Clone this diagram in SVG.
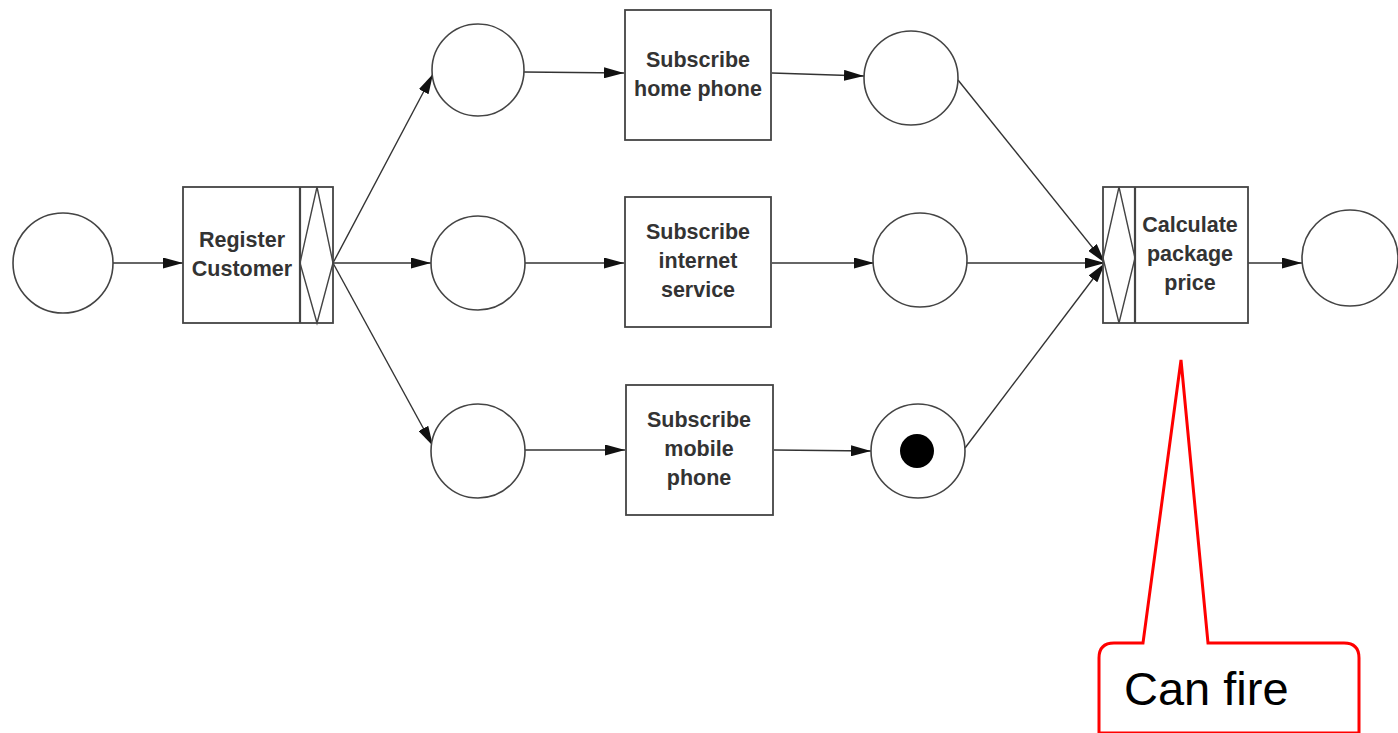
<svg xmlns="http://www.w3.org/2000/svg" width="1398" height="733" viewBox="0 0 1398 733">
<style>
.pl{fill:#fff;stroke:#444;stroke-width:1.6}
.tr{fill:#fff;stroke:#444;stroke-width:1.8}
.ln{fill:none;stroke:#444;stroke-width:1.4}
.e{fill:none;stroke:#333;stroke-width:1.4;marker-end:url(#ah)}
.lb{font-family:"Liberation Sans",Arial,sans-serif;font-weight:bold;font-size:21.5px;fill:#333;text-anchor:middle}
</style>
<defs>
<marker id="ah" viewBox="0 0 20 11" refX="20" refY="5.5" markerWidth="20" markerHeight="11" markerUnits="userSpaceOnUse" orient="auto">
<path d="M0,0 L20,5.5 L0,11 Z" fill="#111"/>
</marker>
</defs>
<rect width="1398" height="733" fill="#fff"/>
<g id="connectors">
<line class="e" x1="113" y1="263" x2="183" y2="263"/>
<line class="e" x1="333" y1="263" x2="433" y2="74"/>
<line class="e" x1="333" y1="263" x2="431" y2="263"/>
<line class="e" x1="333" y1="263" x2="433" y2="446"/>
<line class="e" x1="524" y1="72" x2="624" y2="73"/>
<line class="e" x1="524" y1="263" x2="624" y2="263"/>
<line class="e" x1="524" y1="450" x2="625" y2="450"/>
<line class="e" x1="772" y1="73" x2="864" y2="76"/>
<line class="e" x1="772" y1="263" x2="874" y2="263"/>
<line class="e" x1="774" y1="450" x2="871" y2="451"/>
<line class="e" x1="958" y1="80" x2="1105" y2="263"/>
<line class="e" x1="967" y1="263" x2="1105" y2="263"/>
<line class="e" x1="965" y1="448" x2="1105" y2="263"/>
<line class="e" x1="1248" y1="263" x2="1302" y2="263"/>
</g>
<g id="p_start"><circle class="pl" cx="63" cy="263" r="50"/></g>
<g id="t_register">
<rect class="tr" x="183" y="187" width="150" height="136"/>
<line class="ln" x1="300" y1="187" x2="300" y2="323" style="stroke-width:2.2"/>
<path class="ln" d="M317,187 L333,263 L317,323 L300,263 Z"/>
<text class="lb" x="242" y="247">Register</text>
<text class="lb" x="242" y="276">Customer</text>
</g>
<g id="p_a1"><circle class="pl" cx="478" cy="70" r="46"/></g>
<g id="p_a2"><circle class="pl" cx="478" cy="263" r="47"/></g>
<g id="p_a3"><circle class="pl" cx="478" cy="451" r="47"/></g>
<g id="t_home">
<rect class="tr" x="625" y="10" width="146" height="130"/>
<text class="lb" x="698" y="67">Subscribe</text>
<text class="lb" x="698" y="96">home phone</text>
</g>
<g id="t_internet">
<rect class="tr" x="625" y="197" width="146" height="130"/>
<text class="lb" x="698" y="239">Subscribe</text>
<text class="lb" x="698" y="268">internet</text>
<text class="lb" x="698" y="297">service</text>
</g>
<g id="t_mobile">
<rect class="tr" x="626" y="385" width="147" height="130"/>
<text class="lb" x="699" y="427">Subscribe</text>
<text class="lb" x="699" y="456">mobile</text>
<text class="lb" x="699" y="485">phone</text>
</g>
<g id="p_b1"><circle class="pl" cx="911" cy="78" r="47"/></g>
<g id="p_b2"><circle class="pl" cx="920" cy="260" r="47"/></g>
<g id="p_b3"><circle class="pl" cx="918" cy="451" r="47"/><circle cx="917" cy="451" r="17" fill="#000"/></g>
<g id="t_calc">
<rect class="tr" x="1103" y="187" width="145" height="136"/>
<line class="ln" x1="1135" y1="187" x2="1135" y2="323" style="stroke-width:2.2"/>
<path class="ln" d="M1119,187 L1135,258 L1119,323 L1103,258 Z"/>
<text class="lb" x="1190" y="232">Calculate</text>
<text class="lb" x="1190" y="261">package</text>
<text class="lb" x="1190" y="290">price</text>
</g>
<g id="p_end"><circle class="pl" cx="1350" cy="258" r="48"/></g>
<g id="callout">
<path d="M1181,360 L1208,643 L1344,643 Q1359,643 1359,658 L1359,733 L1099,733 L1099,658 Q1099,643 1114,643 L1143,643 Z" fill="#fff" stroke="#f00" stroke-width="3" stroke-linejoin="miter"/>
<text x="1124" y="705" font-family="'Liberation Sans',Arial,sans-serif" font-size="47" fill="#000">Can fire</text>
</g>
</svg>
